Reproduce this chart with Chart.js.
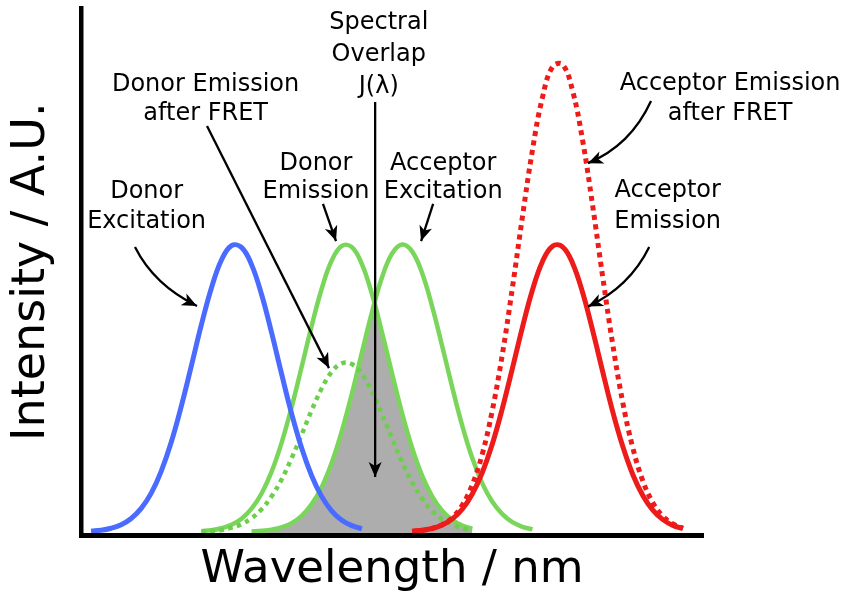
<!DOCTYPE html>
<html>
<head>
<meta charset="utf-8">
<title>FRET spectra</title>
<script src="https://cdn.jsdelivr.net/npm/chart.js@4.4.1/dist/chart.umd.min.js"></script>
<style>
  html, body { margin: 0; padding: 0; background: #fff; }
</style>
</head>
<body>
<canvas id="fretChart" width="845" height="601"></canvas>
<script>
// shared wavelength grid (nm)
const wavelengths = [
  390, 395, 400, 405, 410, 415, 420, 425, 430, 435, 440, 445, 450, 455, 460, 465,
  470, 475, 480, 485, 490, 495, 500, 505, 510, 515, 520, 525, 530, 535, 540, 545,
  550, 555, 560, 565, 570, 575, 580, 585, 590, 595, 600, 605, 610, 615, 620, 625,
  630, 635, 640, 645, 650, 655, 660, 665, 670, 675, 680, 685, 690, 695, 700,
];

// intensities (A.U.), each series starts at the given wavelength
const donorExcitationStart = 395;
const donorExcitation = [0.003, 0.006, 0.013, 0.025, 0.047, 0.082, 0.135, 0.212, 0.313, 0.438, 0.578,
  0.721, 0.849, 0.946, 0.996, 0.990, 0.930, 0.826, 0.693, 0.549, 0.411, 0.291, 0.195, 0.123, 0.073,
  0.041, 0.022, 0.011];

const donorEmissionStart = 450;
const donorEmission = [0.003, 0.006, 0.013, 0.025, 0.046, 0.081, 0.134, 0.210, 0.311, 0.435, 0.575,
  0.718, 0.847, 0.945, 0.995, 0.991, 0.932, 0.828, 0.695, 0.552, 0.414, 0.293, 0.196, 0.124, 0.074,
  0.042, 0.022, 0.011];
const donorEmissionFret = [0.002, 0.004, 0.007, 0.015, 0.027, 0.048, 0.079, 0.124, 0.183, 0.257, 0.339,
  0.424, 0.500, 0.557, 0.587, 0.584, 0.550, 0.489, 0.410, 0.326, 0.244, 0.173, 0.116, 0.073, 0.044,
  0.025, 0.013, 0.007];

const acceptorExcitationStart = 475;
const acceptorExcitation = [0.002, 0.004, 0.008, 0.016, 0.031, 0.056, 0.097, 0.157, 0.242, 0.351, 0.481,
  0.624, 0.764, 0.885, 0.968, 1.000, 0.976, 0.901, 0.785, 0.647, 0.504, 0.370, 0.257, 0.169, 0.105,
  0.062, 0.034, 0.018, 0.009];

const acceptorEmissionStart = 555;
const acceptorEmission = [0.003, 0.006, 0.012, 0.024, 0.045, 0.079, 0.132, 0.207, 0.306, 0.430, 0.569,
  0.712, 0.842, 0.941, 0.994, 0.992, 0.935, 0.833, 0.701, 0.558, 0.419, 0.298, 0.200, 0.127, 0.076,
  0.043, 0.023, 0.012];
const acceptorEmissionFret = [0.002, 0.005, 0.012, 0.025, 0.050, 0.093, 0.164, 0.271, 0.423, 0.618, 0.849,
  1.096, 1.328, 1.512, 1.618, 1.626, 1.535, 1.362, 1.135, 0.888, 0.653, 0.451, 0.293, 0.178, 0.102,
  0.055, 0.028, 0.013];

// shaded area under both donor emission and acceptor excitation
const overlapStart = 475;
const spectralOverlap = [0.002, 0.004, 0.008, 0.016, 0.031, 0.056, 0.097, 0.157, 0.242, 0.351, 0.481,
  0.624, 0.764, 0.695, 0.552, 0.414, 0.293, 0.196, 0.124, 0.074, 0.042, 0.022, 0.011];

// annotation text, anchored in data units (nm, A.U.) at the first baseline
const labels = [
  { lines: ["Donor", "Excitation"], at: [422.7, 1.163], gap: 30 },
  { lines: ["Donor Emission", "after FRET"], at: [452.1, 1.535], gap: 29.5 },
  { lines: ["Spectral", "Overlap", "J(\u03bb)"], at: [538.4, 1.748], gap: 31.7 },
  { lines: ["Donor", "Emission"], at: [507.1, 1.259], gap: 27.5 },
  { lines: ["Acceptor", "Excitation"], at: [570.5, 1.259], gap: 27.5 },
  { lines: ["Acceptor Emission", "after FRET"], at: [713.5, 1.537], gap: 30 },
  { lines: ["Acceptor", "Emission"], at: [682.4, 1.164], gap: 31 },
];

const arrows = [
  { from: [416.9, 0.991], ctrl: [426.4, 0.859], to: [447.8, 0.786] },
  { from: [452.8, 1.412], to: [513.6, 0.570] },
  { from: [536.6, 1.496], to: [536.6, 0.191] },
  { from: [510.6, 1.141], to: [517.1, 1.012] },
  { from: [565.5, 1.141], to: [559.5, 1.012] },
  { from: [674.1, 1.499], ctrl: [663.9, 1.344], to: [642.7, 1.283] },
  { from: [673.2, 0.991], ctrl: [663.4, 0.852], to: [642.7, 0.784] },
];

const FONT = '"DejaVu Sans", Verdana, sans-serif';

function toPoints(start, values) {
  const i0 = wavelengths.indexOf(start);
  return values.map((v, i) => ({ x: wavelengths[i0 + i], y: v }));
}

function drawArrowHead(ctx, tipX, tipY, fromX, fromY) {
  const ang = Math.atan2(tipY - fromY, tipX - fromX);
  ctx.save();
  ctx.translate(tipX, tipY);
  ctx.rotate(ang);
  ctx.beginPath();
  ctx.moveTo(0, 0);
  ctx.lineTo(-15, -6.5);
  ctx.lineTo(-11, 0);
  ctx.lineTo(-15, 6.5);
  ctx.closePath();
  ctx.fill();
  ctx.restore();
}

const annotationPlugin = {
  id: "fretAnnotations",
  afterDatasetsDraw(chart) {
    const { ctx } = chart;
    const xs = chart.scales.x;
    const ys = chart.scales.y;
    const px = (p) => [xs.getPixelForValue(p[0]), ys.getPixelForValue(p[1])];

    ctx.save();
    ctx.fillStyle = "#000";
    ctx.strokeStyle = "#000";
    ctx.font = "24px " + FONT;
    ctx.textAlign = "center";
    ctx.textBaseline = "alphabetic";
    labels.forEach((l) => {
      const [cx, cy] = px(l.at);
      l.lines.forEach((t, i) => ctx.fillText(t, cx, cy + i * l.gap));
    });

    ctx.lineWidth = 2.3;
    arrows.forEach((a) => {
      const [x0, y0] = px(a.from);
      const [x1, y1] = px(a.to);
      ctx.beginPath();
      ctx.moveTo(x0, y0);
      let dirX = x0, dirY = y0;
      if (a.ctrl) {
        const [cx, cy] = px(a.ctrl);
        ctx.quadraticCurveTo(cx, cy, x1, y1);
        dirX = cx; dirY = cy;
      } else {
        ctx.lineTo(x1, y1);
      }
      ctx.stroke();
      drawArrowHead(ctx, x1, y1, dirX, dirY);
    });
    ctx.restore();
  },
};

const lineDefaults = {
  pointRadius: 0,
  fill: false,
  tension: 0.4,
  borderCapStyle: "butt",
};

new Chart(document.getElementById("fretChart"), {
  type: "line",
  data: {
    datasets: [
      { ...lineDefaults, label: "Acceptor Emission after FRET", data: toPoints(acceptorEmissionStart, acceptorEmissionFret),
        borderColor: "#ee1b1b", borderWidth: 5, borderDash: [5, 4.5] },
      { ...lineDefaults, label: "Acceptor Emission", data: toPoints(acceptorEmissionStart, acceptorEmission),
        borderColor: "#ee1b1b", borderWidth: 5 },
      { ...lineDefaults, label: "Donor Excitation", data: toPoints(donorExcitationStart, donorExcitation),
        borderColor: "#4a6bff", borderWidth: 5 },
      { ...lineDefaults, label: "Donor Emission after FRET", data: toPoints(donorEmissionStart, donorEmissionFret),
        borderColor: "#6ccf4c", borderWidth: 4.5, borderDash: [4.5, 4.5] },
      { ...lineDefaults, label: "Acceptor Excitation", data: toPoints(acceptorExcitationStart, acceptorExcitation),
        borderColor: "#7ad65a", borderWidth: 4.5 },
      { ...lineDefaults, label: "Donor Emission", data: toPoints(donorEmissionStart, donorEmission),
        borderColor: "#7ad65a", borderWidth: 4.5 },
      { ...lineDefaults, label: "Spectral Overlap", data: toPoints(overlapStart, spectralOverlap),
        tension: 0.25, borderWidth: 0, borderColor: "rgba(0,0,0,0)", backgroundColor: "#adadad", fill: "start" },
    ],
  },
  options: {
    responsive: false,
    animation: false,
    devicePixelRatio: 1,
    layout: { padding: { left: 0, top: 8, right: 142, bottom: 0 } },
    plugins: {
      legend: { display: false },
      tooltip: { enabled: false },
    },
    scales: {
      x: {
        type: "linear",
        min: 390,
        max: 700,
        grid: { display: false, drawTicks: false },
        ticks: { display: false },
        border: { display: true, color: "#000", width: 5, z: 1 },
        title: {
          display: true,
          text: "Wavelength / nm",
          color: "#000",
          font: { family: FONT, size: 45 },
          padding: { top: 0, bottom: 4 },
        },
        afterFit(scale) { scale.height = 65.5; },
      },
      y: {
        min: -0.0122,
        max: 1.8226,
        grid: { display: false, drawTicks: false },
        ticks: { display: false },
        border: { display: true, color: "#000", width: 4.5, z: 1 },
        title: {
          display: true,
          text: "Intensity / A.U.",
          color: "#000",
          font: { family: FONT, size: 46 },
          padding: { top: 4.5, bottom: 0 },
        },
        afterFit(scale) { scale.width = 81; },
      },
    },
  },
  plugins: [annotationPlugin],
});
</script>
</body>
</html>
